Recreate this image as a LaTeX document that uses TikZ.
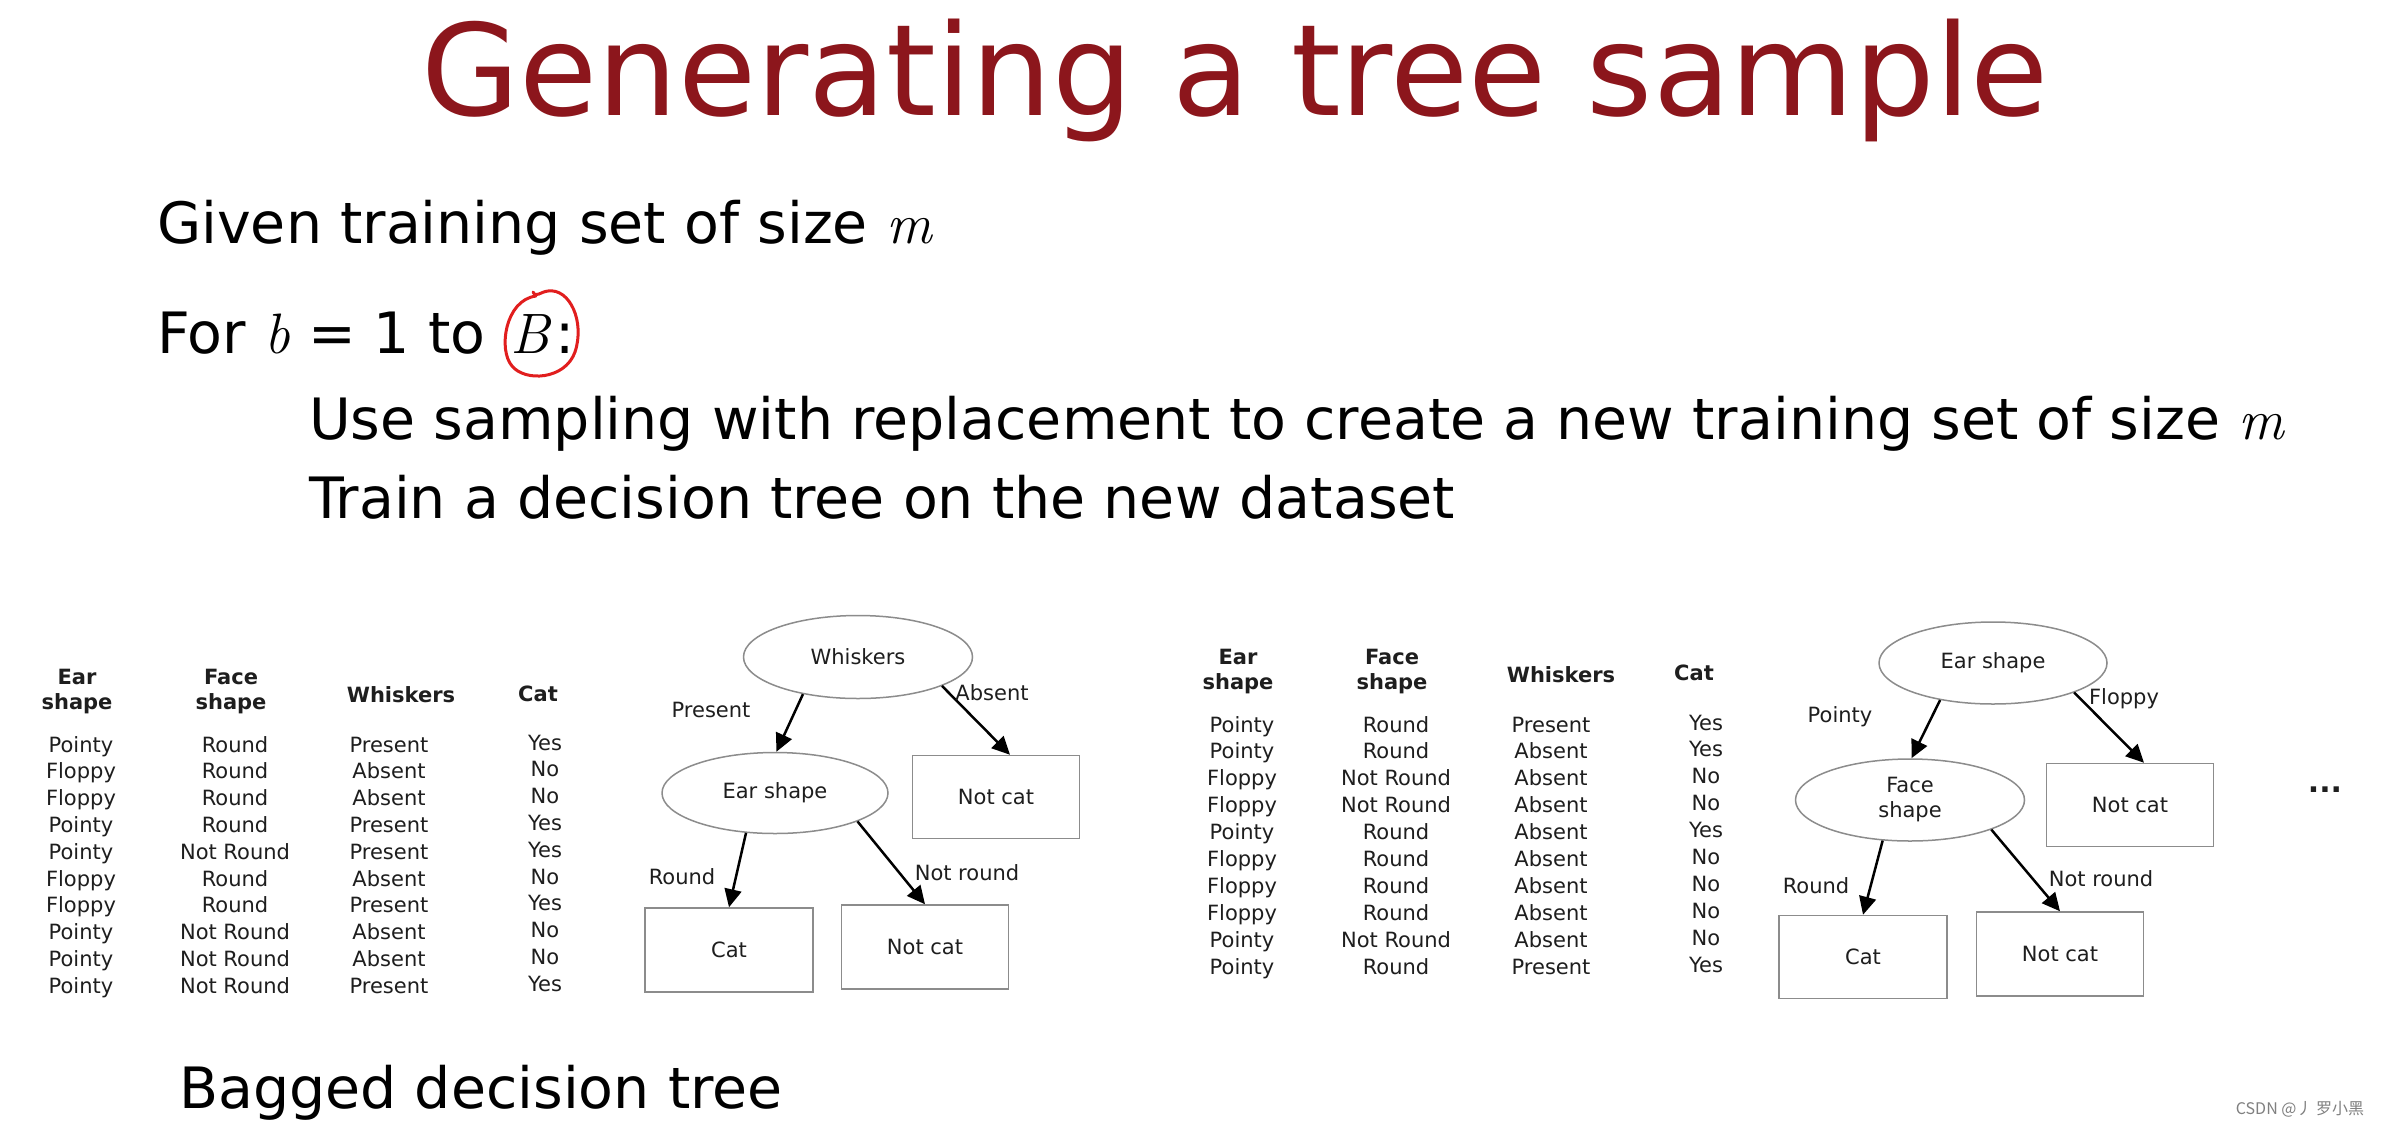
\documentclass[tikz,border=0pt]{standalone}
\usepackage{fontspec}
\setmainfont{DejaVu Sans}
\newfontfamily\cjk{Noto Sans CJK SC}
\newfontfamily\lmroman{Latin Modern Roman}
\newcommand\mvar[1]{{\lmroman\itshape #1}}
\usetikzlibrary{shapes.geometric,arrows.meta}
\definecolor{titlered}{RGB}{140,22,28}
\definecolor{penred}{RGB}{225,30,30}
\definecolor{ink}{RGB}{30,30,30}
\definecolor{edge}{RGB}{140,140,140}
\begin{document}
\begin{tikzpicture}[x=1pt,y=-1pt,
  body/.style={font=\fontsize{57}{67}\selectfont, anchor=base west, inner sep=0, text=black},
  cell/.style={font=\fontsize{21}{25}\selectfont, anchor=base, inner sep=0, text=ink},
  head/.style={font=\fontsize{21}{25}\selectfont\bfseries, inner sep=0, text=ink, align=center},
  dec/.style={ellipse, draw=edge, line width=1.5pt, inner sep=0, minimum width=228pt, minimum height=82pt, font=\fontsize{21}{25}\selectfont, text=ink, align=center},
  leaf/.style={rectangle, draw=edge, line width=1.5pt, inner sep=0, minimum width=167pt, minimum height=83pt, font=\fontsize{21}{25}\selectfont, text=ink},
  lab/.style={font=\fontsize{21}{25}\selectfont, inner sep=0, text=ink},
  arr/.style={-{Triangle[length=18pt,width=17pt]}, line width=2.5pt, black}
]
\useasboundingbox (0,0) rectangle (2384,1128);
\fill[white] (0,0) rectangle (2384,1128);

% title and text
\node[font=\fontsize{127}{150}\selectfont, text=titlered, anchor=base, inner sep=0] (title) at (1235,115) {Generating a tree sample};
\node[body] (given) at (157,243) {Given training set of size \mvar{m}};
\node[body] (for) at (157,353) {For \mvar{b} = 1 to\hspace{25pt}\mvar{B}\hspace{6pt}:};
\node[body] (use) at (309,439) {Use sampling with replacement to create a new training set of size \mvar{m}};
\node[body] (train) at (309,518) {Train a decision tree on the new dataset};
\node[body] (bagged) at (179,1108) {Bagged decision tree};

% red pen circle
\draw[penred, line width=3pt, line cap=round] (536,296) .. controls (505,300) and (498,350) .. (512,366)
  .. controls (525,382) and (565,380) .. (575,352)
  .. controls (585,322) and (570,288) .. (548,291)
  .. controls (540,292) and (536,298) .. (533,292);

% table 1
\node[head] (h1a) at (77,692) {Ear\\shape};
\node[head] (h1b) at (231,692) {Face\\shape};
\node[head, anchor=base] (h1c) at (401,702) {Whiskers};
\node[head, anchor=base] (h1d) at (538,701) {Cat};
\foreach \ea/\fa/\wh/\ca [count=\i from 0] in {
  Pointy/Round/Present/Yes, Floppy/Round/Absent/No, Floppy/Round/Absent/No,
  Pointy/Round/Present/Yes, Pointy/Not Round/Present/Yes, Floppy/Round/Absent/No,
  Floppy/Round/Present/Yes, Pointy/Not Round/Absent/No, Pointy/Not Round/Absent/No,
  Pointy/Not Round/Present/Yes}{
  \pgfmathsetmacro{\yy}{752+26.8*\i}
  \node[cell] (ta\i) at (81,\yy) {\ea};
  \node[cell] (tb\i) at (235,\yy) {\fa};
  \node[cell] (tc\i) at (389,\yy) {\wh};
  \node[cell] (td\i) at (545,\yy-2) {\ca};
}

% table 2
\node[head] (h2a) at (1238,672) {Ear\\shape};
\node[head] (h2b) at (1392,672) {Face\\shape};
\node[head, anchor=base] (h2c) at (1561,682) {Whiskers};
\node[head, anchor=base] (h2d) at (1694,680) {Cat};
\foreach \ea/\fa/\wh/\ca [count=\i from 0] in {
  Pointy/Round/Present/Yes, Pointy/Round/Absent/Yes, Floppy/Not Round/Absent/No,
  Floppy/Not Round/Absent/No, Pointy/Round/Absent/Yes, Floppy/Round/Absent/No,
  Floppy/Round/Absent/No, Floppy/Round/Absent/No, Pointy/Not Round/Absent/No,
  Pointy/Round/Present/Yes}{
  \pgfmathsetmacro{\yy}{732+26.9*\i}
  \node[cell] (ua\i) at (1242,\yy) {\ea};
  \node[cell] (ub\i) at (1396,\yy) {\fa};
  \node[cell] (uc\i) at (1551,\yy) {\wh};
  \node[cell] (ud\i) at (1706,\yy-2) {\ca};
}

% tree 1
\node[dec, minimum width=229pt, minimum height=83pt] (w1) at (858,657) {Whiskers};
\node[dec, minimum width=226pt, minimum height=81pt] (e1) at (775,793) {Ear shape};
\node[leaf] (nc1) at (996,797) {Not cat};
\node[leaf, minimum width=168pt, minimum height=84pt] (cat1) at (729,950) {Cat};
\node[leaf, minimum height=84pt] (nc2) at (925,947) {Not cat};
\draw[arr] (w1.214) -- (e1.88);
\draw[arr] (w1.-19) -- ([xshift=14pt]nc1.north);
\draw[arr] (e1.234) -- (cat1.north);
\draw[arr] (e1.-19) -- (nc2.north);
\node[lab] (l1a) at (711,710) {Present};
\node[lab] (l1b) at (992,693) {Absent};
\node[lab] (l1c) at (682,877) {Round};
\node[lab] (l1d) at (967,873) {Not round};

% tree 2
\node[dec] (e2) at (1993,663) {Ear shape};
\node[dec, minimum width=229pt] (f2) at (1910,800) {Face\\shape};
\node[leaf] (nc3) at (2130,805) {Not cat};
\node[leaf, minimum width=168pt] (cat2) at (1863,957) {Cat};
\node[leaf, minimum height=84pt] (nc4) at (2060,954) {Not cat};
\draw[arr] (e2.215) -- (f2.88);
\draw[arr] (e2.-20) -- ([xshift=14pt]nc3.north);
\draw[arr] (f2.236) -- (cat2.north);
\draw[arr] (f2.-20) -- (nc4.north);
\node[lab] (l2a) at (1840,717) {Pointy};
\node[lab] (l2b) at (2124,699) {Floppy};
\node[lab] (l2c) at (1816,886) {Round};
\node[lab] (l2d) at (2101,879) {Not round};

\node[font=\fontsize{30}{36}\selectfont\bfseries, inner sep=0, text=ink] (dots) at (2325,790) {...};

% watermark
\node[font=\cjk\fontsize{16}{20}\selectfont, text=gray, inner sep=0] (wm) at (2300,1109) {CSDN @丿 罗小黑};
\end{tikzpicture}
\end{document}
